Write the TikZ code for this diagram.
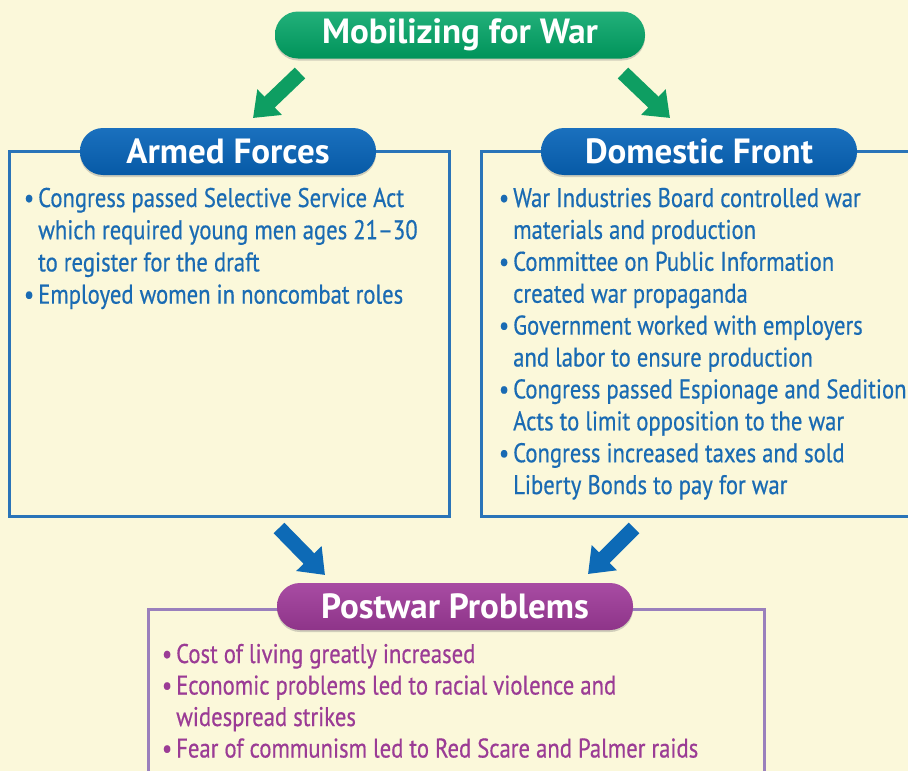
\documentclass[tikz,border=0pt]{standalone}
\usepackage{fontspec}
\setmainfont{PT Sans}
\newfontfamily\bodyf[FakeStretch=0.84,FakeBold=0.5]{PT Sans}
\newfontfamily\headf{PT Sans}
\usetikzlibrary{arrows.meta,shadows}
\definecolor{bg}{HTML}{FBF8DA}
\definecolor{gtop}{HTML}{22B07A}
\definecolor{gbot}{HTML}{00935A}
\definecolor{btop}{HTML}{1A70BE}
\definecolor{bbot}{HTML}{075AA6}
\definecolor{ptop}{HTML}{A84CA3}
\definecolor{pbot}{HTML}{8E3489}
\definecolor{bline}{HTML}{2A74B8}
\definecolor{pline}{HTML}{9A80BC}
\definecolor{tblue}{HTML}{1A6BB3}
\definecolor{tpurp}{HTML}{9B3C95}
\definecolor{garr}{HTML}{0E9E62}
\definecolor{barr}{HTML}{0D6AB6}
\tikzset{
  pill/.style={rounded corners=23pt, minimum height=47pt, inner sep=0pt,
    text=white, font=\headf\bfseries\fontsize{35}{40}\selectfont,
    drop shadow={shadow xshift=0pt, shadow yshift=-2pt, opacity=0.35}},
  gpill/.style={pill, top color=gtop, bottom color=gbot},
  bpill/.style={pill, top color=btop, bottom color=bbot},
  ppill/.style={pill, top color=ptop, bottom color=pbot},
  framebox/.style={draw, line width=2.6pt, inner sep=0pt, anchor=north west},
  bt/.style={font=\bodyf\fontsize{27}{30}\selectfont, text=tblue, inner sep=0pt, anchor=base west},
  pt/.style={bt, text=tpurp},
  garrow/.style={draw=garr, line width=15pt, -{Triangle[width=34pt,length=23pt]}},
  barrow/.style={draw=barr, line width=15pt, -{Triangle[width=34pt,length=23pt]}},
}
\newcommand\bul{\llap{\textbullet\hspace{4pt}}}
\begin{document}
\begin{tikzpicture}[x=1pt,y=-1pt]
\fill[bg] (0,0) rectangle (908,771);
\useasboundingbox (0,0) rectangle (908,771);

% frames
\node[framebox, draw=bline, minimum width=440pt, minimum height=365pt] (armbox) at (8,150) {};
\node[framebox, draw=bline, minimum width=450pt, minimum height=365pt] (dombox) at (480,150) {};
\node[framebox, draw=pline, minimum width=616pt, minimum height=200pt] (postbox) at (147,608) {};

% pills
\node[gpill, minimum width=370pt] (title) at (460,35) {Mobilizing for War};
\node[bpill, minimum width=296pt] (armed) at (228,151.5) {Armed Forces};
\node[bpill, minimum width=316pt] (domestic) at (699,151.5) {Domestic Front};
\node[ppill, minimum width=356pt] (postwar) at (455,606.5) {Postwar Problems};

% arrows
\coordinate (g1s) at (300,73); \coordinate (g1e) at (253,118);
\coordinate (g2s) at (623,73); \coordinate (g2e) at (670,118);
\coordinate (b1s) at (279,528); \coordinate (b1e) at (325,575);
\coordinate (b2s) at (634,528); \coordinate (b2e) at (588,574);
\draw[garrow] (g1s) -- (g1e);
\draw[garrow] (g2s) -- (g2e);
\draw[barrow] (b1s) -- (b1e);
\draw[barrow] (b2s) -- (b2e);

% left text
\node[bt] (a1) at (38,207) {\bul Congress passed Selective Service Act};
\node[bt] (a2) at (38,239.2) {which required young men ages 21–30};
\node[bt] (a3) at (38,271.4) {to register for the draft};
\node[bt] (a4) at (38,303.6) {\bul Employed women in noncombat roles};

% right text
\node[bt] (d1) at (513,207) {\bul War Industries Board controlled war};
\node[bt] (d2) at (513,238.9) {materials and production};
\node[bt] (d3) at (513,270.8) {\bul Committee on Public Information};
\node[bt] (d4) at (513,302.7) {created war propaganda};
\node[bt] (d5) at (513,334.6) {\bul Government worked with employers};
\node[bt] (d6) at (513,366.5) {and labor to ensure production};
\node[bt] (d7) at (513,398.4) {\bul Congress passed Espionage and Sedition};
\node[bt] (d8) at (513,430.3) {Acts to limit opposition to the war};
\node[bt] (d9) at (513,462.2) {\bul Congress increased taxes and sold};
\node[bt] (d10) at (513,494.1) {Liberty Bonds to pay for war};

% bottom text
\node[pt] (p1) at (176,663) {\bul Cost of living greatly increased};
\node[pt] (p2) at (176,694.5) {\bul Economic problems led to racial violence and};
\node[pt] (p3) at (176,726) {widespread strikes};
\node[pt] (p4) at (176,757.5) {\bul Fear of communism led to Red Scare and Palmer raids};
\end{tikzpicture}
\end{document}
